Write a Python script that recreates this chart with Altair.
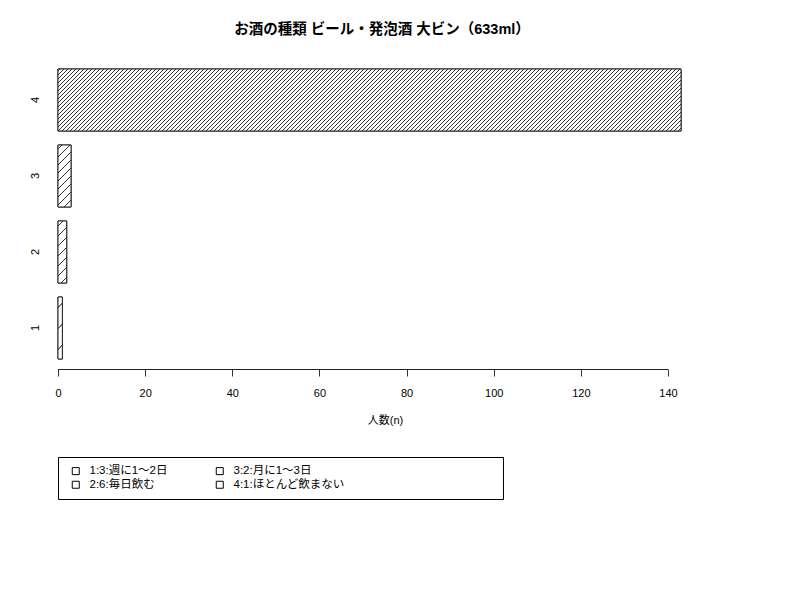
import altair as alt
import pandas as pd

# ---- data ----
categories = ["1", "2", "3", "4"]
counts = [1, 2, 3, 143]
legend_labels = ["1:3:週に1〜2日", "2:6:毎日飲む", "3:2:月に1〜3日", "4:1:ほとんど飲まない"]
x_ticks = [0, 20, 40, 60, 80, 100, 120, 140]
chart_title = "お酒の種類 ビール・発泡酒 大ビン（633ml）"
x_title = "人数(n)"

# ---- styling ----
hatch_spacing = [21, 10, 8, 4]   # px between hatch lines per bar
PLOT_W, PLOT_H = 648, 310
X_MAX = 148.72
BAND_PX = 62.0
FONT = "Liberation Sans, Noto Sans CJK JP"
LEGEND_FILL = "\u00a0" * 47 + "\u200b"   # invisible filler that widens the legend box


def hatch(width_px, height_px, spacing):
    """Diagonal '/' hatching as a linear gradient with soft-edged stripes."""
    total = width_px + height_px
    s = total / (width_px ** 2 + height_px ** 2)
    edge, core = 1.0, 0.25
    ink = "#333333"
    stops = [alt.GradientStop(offset=0, color="white")]
    c = spacing / 2.0
    last = 0.0
    while c + edge < total:
        pts = [(c - edge, "white"), (c - core, ink), (c + core, ink), (c + edge, "white")]
        for p, col in pts:
            o = max(round(max(p, 0) / total, 6), last)
            stops.append(alt.GradientStop(offset=o, color=col))
            last = o
        c += spacing
    stops.append(alt.GradientStop(offset=1, color="white"))
    return alt.LinearGradient(
        gradient="linear", stops=stops,
        x1=0, y1=0, x2=round(s * width_px, 6), y2=round(s * height_px, 6),
    )


df = pd.DataFrame({"cat": categories, "n": counts, "label": legend_labels})

x_scale = alt.Scale(domain=[0, X_MAX], nice=False, zero=True)
y_scale = alt.Scale(paddingInner=14 / 76, paddingOuter=10 / 76)

x_enc = alt.X(
    "n:Q", scale=x_scale,
    axis=alt.Axis(
        values=x_ticks, title=x_title, domain=False, grid=False,
        tickSize=7, tickColor="#333333", labelPadding=11, labelFlush=False,
        labelFont=FONT, labelFontSize=11, labelColor="black",
        titleFont=FONT, titleFontSize=11, titleFontWeight="normal", titleColor="black",
        titleY=51, titleBaseline="middle", titleX=327,
    ),
)
y_enc = alt.Y(
    "cat:N", sort="descending", scale=y_scale,
    axis=alt.Axis(
        title=None, ticks=False, domain=False, grid=False,
        labelAngle=270, labelAlign="center", labelBaseline="bottom",
        labelPadding=18, labelFont=FONT, labelFontSize=11, labelColor="black",
    ),
)

col2 = " || ".join(f"datum.label == '{lab}'" for lab in legend_labels[2:])

base = alt.Chart(df).mark_bar(stroke="#222222", strokeWidth=1).encode(
    x=x_enc,
    y=y_enc,
    fill=alt.Fill(
        "label:N",
        scale=alt.Scale(domain=legend_labels, range=["white"] * 4),
        legend=alt.Legend(
            title=None, orient="none", legendX=0, legendY=398,
            columns=2, columnPadding=42, rowPadding=1, padding=8,
            strokeColor="black", cornerRadius=0,
            symbolType="square", symbolSize=49, symbolStrokeColor="black",
            symbolStrokeWidth=1, symbolFillColor="white", symbolOffset=4,
            labelOffset=8, labelFont=FONT, labelFontSize=11.5, labelColor="black",
            labelLimit=0,
            labelExpr=f"({col2}) ? datum.label + '{LEGEND_FILL}' : datum.label",
        ),
    ),
)

layers = [base]
for cat, n, sp in zip(categories, counts, hatch_spacing):
    w_px = n * PLOT_W / X_MAX
    layers.append(
        alt.Chart(df)
        .transform_filter(alt.datum.cat == cat)
        .mark_bar(fill=hatch(w_px, BAND_PX, sp), stroke="#222222", strokeWidth=1)
        .encode(x=alt.X("n:Q", scale=x_scale), y=alt.Y("cat:N", sort="descending", scale=y_scale))
    )

axis_line = alt.Chart(df).mark_rule(color="#222222", strokeWidth=1).encode(
    x=alt.datum(x_ticks[0]), x2=alt.datum(x_ticks[-1]), y=alt.value(PLOT_H + 0.5)
)
layers.append(axis_line)

chart = (
    alt.layer(*layers)
    .properties(
        width=PLOT_W, height=PLOT_H,
        title=alt.TitleParams(
            chart_title, font=FONT, fontSize=14.5, fontWeight="bold", color="black",
            anchor="middle", offset=22,
        ),
        autosize=alt.AutoSizeParams(type="none"),
        padding={"left": 50, "top": 51, "right": 60, "bottom": 160},
    )
    .configure_view(stroke=None)
)

chart.save("out.html", embed_options={"renderer": "svg", "actions": False})
